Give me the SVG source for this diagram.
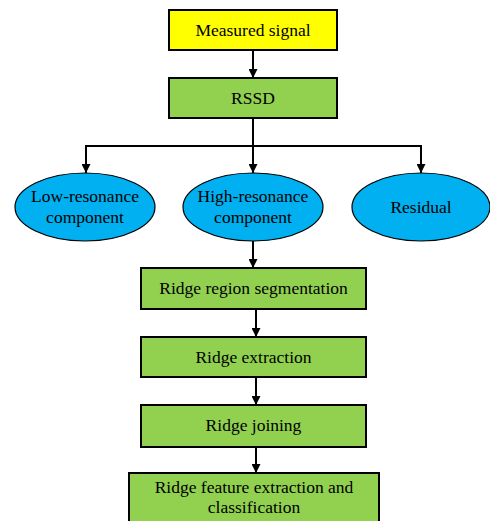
<svg xmlns="http://www.w3.org/2000/svg" width="490" height="521" viewBox="0 0 490 521">
<style>
text{font-family:"Liberation Serif","Times New Roman",serif;font-size:17.5px;fill:#000;text-anchor:middle}
.box{stroke:#000;stroke-width:2}
.g{fill:#92D050}
.y{fill:#FFFF00}
.e{fill:#00B0F0;stroke:#000;stroke-width:1.2}
.c{fill:none;stroke:#000;stroke-width:2}
</style>
<defs>
<marker id="ah" viewBox="0 0 10 10" refX="10" refY="5" markerWidth="5.5" markerHeight="4.5" orient="auto" markerUnits="strokeWidth">
<path d="M0,0 L10,5 L0,10 z" fill="#000"/>
</marker>
</defs>
<g id="connectors">
<path class="c" d="M253,50 V78" marker-end="url(#ah)"/>
<path class="c" d="M253,118 V173" marker-end="url(#ah)"/>
<path class="c" d="M86,146 H421"/>
<path class="c" d="M86,145 V173" marker-end="url(#ah)"/>
<path class="c" d="M421,145 V173" marker-end="url(#ah)"/>
<path class="c" d="M253,241 V268" marker-end="url(#ah)"/>
<path class="c" d="M256,309 V337" marker-end="url(#ah)"/>
<path class="c" d="M256,377 V405" marker-end="url(#ah)"/>
<path class="c" d="M256,447 V473" marker-end="url(#ah)"/>
</g>
<g id="measured"><rect class="box y" x="169" y="10" width="168" height="40"/><text x="253" y="36">Measured signal</text></g>
<g id="rssd"><rect class="box g" x="169" y="78" width="168" height="40"/><text x="253" y="104">RSSD</text></g>
<g id="low"><ellipse class="e" cx="85" cy="207" rx="70" ry="34"/><text x="85" y="202">Low-resonance</text><text x="85" y="223">component</text></g>
<g id="high"><ellipse class="e" cx="253" cy="207" rx="70" ry="34"/><text x="253" y="202">High-resonance</text><text x="253" y="223">component</text></g>
<g id="residual"><ellipse class="e" cx="421" cy="207" rx="69" ry="34"/><text x="421" y="213">Residual</text></g>
<g id="seg"><rect class="box g" x="141" y="268" width="225" height="41"/><text x="253.5" y="294">Ridge region segmentation</text></g>
<g id="extr"><rect class="box g" x="141" y="337" width="225" height="40"/><text x="253.5" y="363">Ridge extraction</text></g>
<g id="join"><rect class="box g" x="141" y="405" width="225" height="42"/><text x="253.5" y="431">Ridge joining</text></g>
<g id="feat"><rect class="box g" x="129" y="473" width="250" height="60"/><text x="254" y="493">Ridge feature extraction and</text><text x="254" y="513">classification</text></g>
</svg>
